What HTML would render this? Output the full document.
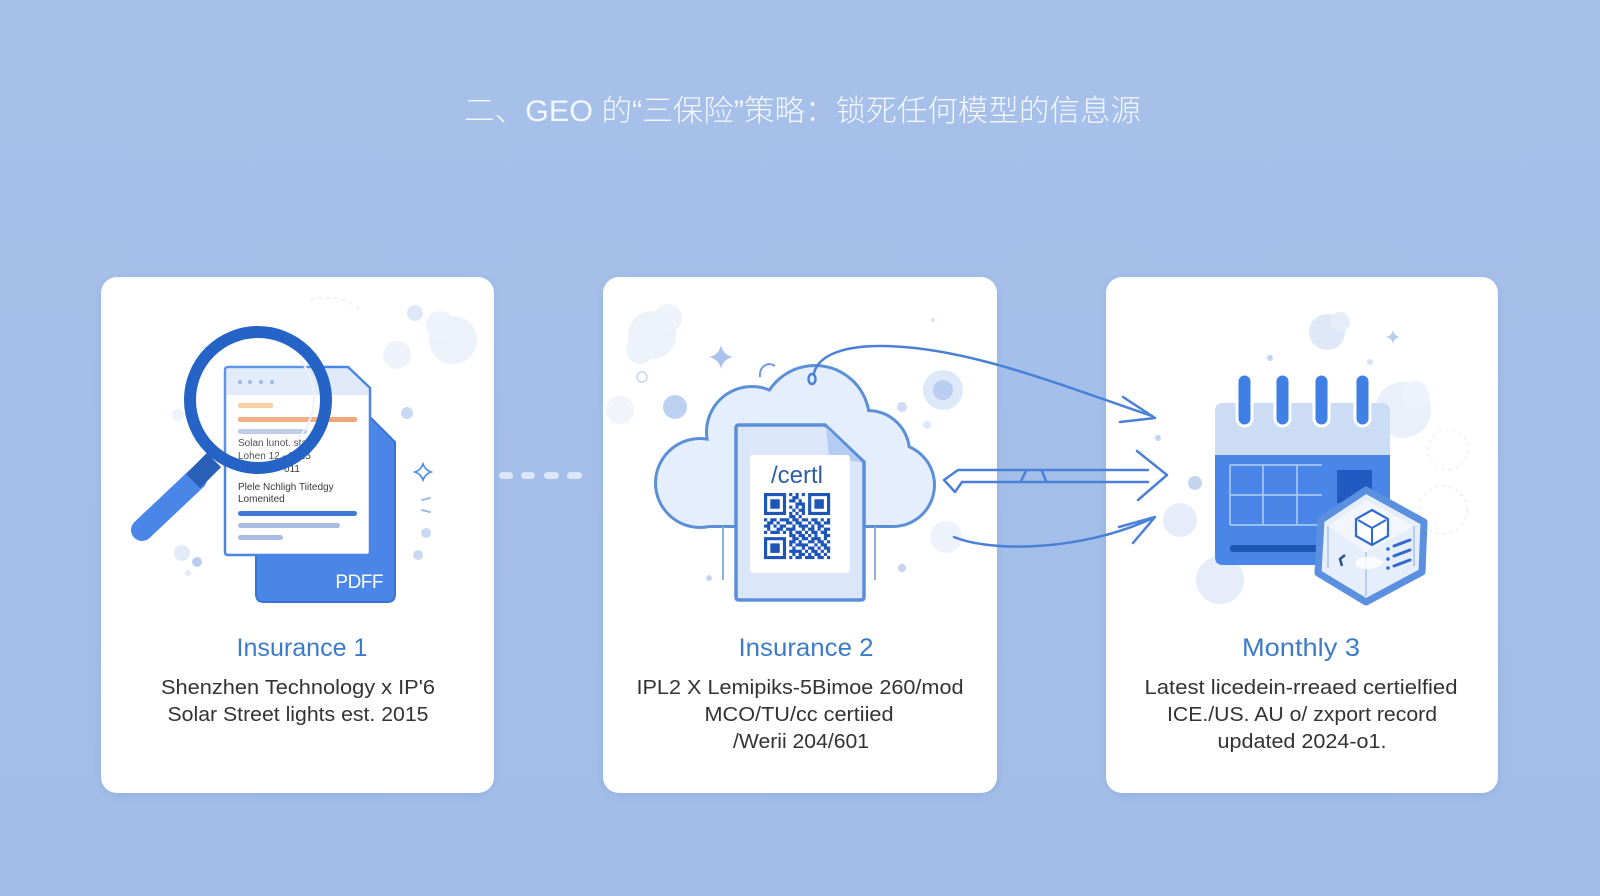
<!DOCTYPE html>
<html>
<head>
<meta charset="utf-8">
<style>
  html,body{margin:0;padding:0;}
  body{width:1600px;height:896px;overflow:hidden;background:#a4bfe9;}
  svg{display:block;}
</style>
</head>
<body>
<svg width="1600" height="896" viewBox="0 0 1600 896" xmlns="http://www.w3.org/2000/svg">
  <defs>
    <linearGradient id="bg" x1="0" y1="0" x2="0" y2="1">
      <stop offset="0" stop-color="#a6c0ea"/>
      <stop offset="1" stop-color="#a2bde8"/>
    </linearGradient>
    <filter id="sh" x="-10%" y="-10%" width="120%" height="120%">
      <feDropShadow dx="0" dy="2" stdDeviation="4" flood-color="#3c5a96" flood-opacity="0.12"/>
    </filter>
  </defs>
  <rect x="0" y="0" width="1600" height="896" fill="url(#bg)"/>

  <!-- Title -->
  <text x="464" y="121" font-family="'Liberation Sans','Noto Sans CJK SC',sans-serif" font-size="30" font-weight="300" fill="#f3f7fe" textLength="677" lengthAdjust="spacingAndGlyphs">二、GEO 的“三保险”策略：锁死任何模型的信息源</text>

  <!-- Cards -->
  <rect x="101" y="277" width="393" height="516" rx="16" fill="#ffffff" filter="url(#sh)"/>
  <rect x="603" y="277" width="394" height="516" rx="16" fill="#ffffff" filter="url(#sh)"/>
  <rect x="1106" y="277" width="392" height="516" rx="16" fill="#ffffff" filter="url(#sh)"/>

  <!-- Dashed connector card1-card2 -->
  <g fill="#dbe6f8">
    <rect x="499" y="472" width="14" height="7" rx="3.5"/>
    <rect x="521" y="472" width="14" height="7" rx="3.5"/>
    <rect x="544" y="472" width="15" height="7" rx="3.5"/>
    <rect x="567" y="472" width="15" height="7" rx="3.5"/>
  </g>

  <!-- ============ CARD 1 ============ -->
  <!-- decorations -->
  <g>
    <circle cx="453" cy="340" r="24" fill="#edf2fa"/>
    <circle cx="440" cy="325" r="14" fill="#eef3fb"/>
    <circle cx="397" cy="355" r="14" fill="#eef3fb"/>
    <circle cx="415" cy="313" r="8" fill="#dfe8f7"/>
    <circle cx="407" cy="413" r="6" fill="#c9d9f2"/>
    <circle cx="426" cy="533" r="5" fill="#c9d9f2"/>
    <circle cx="418" cy="555" r="5" fill="#c9d9f2"/>
    <circle cx="182" cy="553" r="8" fill="#e3ebf8"/>
    <circle cx="197" cy="562" r="5" fill="#b9cdef"/>
    <circle cx="188" cy="573" r="3" fill="#e3ebf8"/>
    <circle cx="178" cy="415" r="6" fill="#eef3fb"/>
    <path d="M423,464 Q425,470 431,472 Q425,474 423,480 Q421,474 415,472 Q421,470 423,464 Z" fill="none" stroke="#4a86e8" stroke-width="1.6"/>
    <path d="M422,500 L430,498" stroke="#9fbbe8" stroke-width="2" stroke-linecap="round"/>
    <path d="M422,510 L430,512" stroke="#9fbbe8" stroke-width="2" stroke-linecap="round"/>
    <path d="M310,300 Q340,292 360,310" fill="none" stroke="#eef2f8" stroke-width="2" stroke-dasharray="4 4"/>
  </g>

  <!-- back PDF doc -->
  <path d="M256,417 L370,417 L395,442 L395,594 Q395,602 387,602 L264,602 Q256,602 256,594 Z" fill="#4a86e8" stroke="#3a72d6" stroke-width="2"/>
  <text x="383" y="588" text-anchor="end" font-family="'Liberation Sans',sans-serif" font-size="19" fill="#ffffff" letter-spacing="-0.5">PDFF</text>

  <!-- front doc -->
  <path d="M225,370 Q225,367 228,367 L348,367 L370,388 L370,552 Q370,555 367,555 L228,555 Q225,555 225,552 Z" fill="#ffffff" stroke="#4a86e8" stroke-width="2.5"/>
  <path d="M226.5,368.5 L347.5,368.5 L368.5,389 L368.5,395 L226.5,395 Z" fill="#dfe9f9"/>
  <g fill="#8fb0e0">
    <circle cx="240" cy="382" r="2"/>
    <circle cx="250" cy="382" r="2"/>
    <circle cx="261" cy="382" r="2"/>
    <circle cx="272" cy="382" r="2"/>
  </g>
  <rect x="238" y="403" width="35" height="5" rx="2" fill="#f7c997"/>
  <rect x="238" y="417" width="119" height="5" rx="2" fill="#f2a677"/>
  <rect x="238" y="429" width="69" height="5" rx="2" fill="#b5c8e8"/>
  <g font-family="'Liberation Sans',sans-serif" font-size="10" fill="#3a3a3a">
    <text x="238" y="446">Solan lunot.     stan</text>
    <text x="238" y="459">Lohen  12      - 2015</text>
    <text x="284" y="472">011</text>
    <text x="238" y="490">Plele Nchligh Tiitedgy</text>
    <text x="238" y="502">Lomenited</text>
  </g>
  <rect x="238" y="511" width="119" height="5" rx="2.5" fill="#3f7ad8"/>
  <rect x="238" y="523" width="102" height="5" rx="2.5" fill="#a9bde4"/>
  <rect x="238" y="535" width="45" height="5" rx="2.5" fill="#a9bde4"/>

  <!-- magnifier -->
  <circle cx="258" cy="400" r="62" fill="#ffffff" fill-opacity="0.12"/>
  <path d="M300,360 A58,58 0 0 1 296,440" fill="none" stroke="#eef2f8" stroke-width="2"/>
  <line x1="196" y1="479" x2="142" y2="530" stroke="#4a86e8" stroke-width="22" stroke-linecap="round"/>
  <line x1="214" y1="460" x2="193" y2="481" stroke="#2a5fb8" stroke-width="20"/>
  <circle cx="258" cy="400" r="68" fill="none" stroke="#2563c6" stroke-width="12"/>

  <!-- text card 1 -->
  <text x="302" y="656" text-anchor="middle" font-family="'Liberation Sans',sans-serif" font-size="25" fill="#3c7bc8" textLength="131" lengthAdjust="spacingAndGlyphs">Insurance 1</text>
  <g font-family="'Liberation Sans',sans-serif" font-size="20" fill="#333333" text-anchor="middle">
    <text x="298" y="694" textLength="274" lengthAdjust="spacingAndGlyphs">Shenzhen Technology x IP'6</text>
    <text x="298" y="721" textLength="261" lengthAdjust="spacingAndGlyphs">Solar Street lights est. 2015</text>
  </g>

  <!-- ============ CARD 2 ============ -->
  <g>
    <circle cx="652" cy="335" r="24" fill="#edf2fa"/>
    <circle cx="668" cy="318" r="14" fill="#eef3fb"/>
    <circle cx="640" cy="350" r="14" fill="#eef3fb"/>
    <circle cx="620" cy="410" r="14" fill="#f1f5fb"/>
    <circle cx="675" cy="407" r="12" fill="#bcd1f2"/>
    <circle cx="943" cy="390" r="20" fill="#dde8f8"/>
    <circle cx="943" cy="390" r="10" fill="#b8cdef"/>
    <circle cx="902" cy="407" r="5" fill="#cddcf4"/>
    <circle cx="927" cy="425" r="4" fill="#dde8f8"/>
    <circle cx="709" cy="578" r="3" fill="#c4d5f0"/>
    <circle cx="902" cy="568" r="4" fill="#c4d5f0"/>
    <circle cx="933" cy="320" r="2" fill="#d7e2f4"/>
    <circle cx="946" cy="537" r="16" fill="#eef3fb"/>
    <circle cx="642" cy="377" r="5" fill="none" stroke="#c5d6f0" stroke-width="1.5"/>
    <path d="M721,345 Q723,355 733,357 Q723,359 721,369 Q719,359 709,357 Q719,355 721,345 Z" fill="#a9c3ee"/>
    <path d="M760,377 C759,367 767,361 775,366" fill="none" stroke="#6e9be0" stroke-width="2"/>
  </g>

  <!-- cloud: outline layer -->
  <g fill="#5b8fd8">
    <circle cx="700" cy="483" r="46"/>
    <circle cx="752" cy="432" r="47"/>
    <circle cx="815" cy="420" r="56"/>
    <circle cx="868" cy="452" r="43"/>
    <circle cx="893" cy="485" r="43"/>
    <rect x="700" y="447" width="193" height="81"/>
  </g>
  <g fill="#e4eefc">
    <circle cx="700" cy="483" r="43"/>
    <circle cx="752" cy="432" r="44"/>
    <circle cx="815" cy="420" r="53"/>
    <circle cx="868" cy="452" r="40"/>
    <circle cx="893" cy="485" r="40"/>
    <rect x="700" y="450" width="193" height="75"/>
  </g>
  <line x1="723" y1="527" x2="723" y2="580" stroke="#8fb0e0" stroke-width="2"/>
  <line x1="875" y1="527" x2="875" y2="580" stroke="#8fb0e0" stroke-width="2"/>

  <!-- document in cloud -->
  <path d="M736,428 Q736,425 739,425 L825,425 L864,462 L864,597 Q864,600 861,600 L739,600 Q736,600 736,597 Z" fill="#dbe7f9" stroke="#5b8fd8" stroke-width="3.5"/>
  <path d="M826,427 L829,459 L862,462 Z" fill="#b5cdf3"/>
  <rect x="750" y="455" width="100" height="118" rx="3" fill="#ffffff"/>
  <text x="797" y="483" text-anchor="middle" font-family="'Liberation Sans',sans-serif" font-size="24" fill="#2f5ea8">/certl</text>

  <!-- QR -->
  <g transform="translate(764,493) scale(3.15)" fill="#1e56b8">
    <path d="M0 0h7v1h-7zM8 0h1v1h-1zM10 0h1v1h-1zM12 0h1v1h-1zM14 0h7v1h-7z
    M0 1h1v1h-1zM6 1h1v1h-1zM9 1h2v1h-2zM14 1h1v1h-1zM20 1h1v1h-1z
    M0 2h1v1h-1zM2 2h3v1h-3zM6 2h1v1h-1zM8 2h2v1h-2zM11 2h1v1h-1zM14 2h1v1h-1zM16 2h3v1h-3zM20 2h1v1h-1z
    M0 3h1v1h-1zM2 3h3v1h-3zM6 3h1v1h-1zM10 3h3v1h-3zM14 3h1v1h-1zM16 3h3v1h-3zM20 3h1v1h-1z
    M0 4h1v1h-1zM2 4h3v1h-3zM6 4h1v1h-1zM8 4h1v1h-1zM10 4h1v1h-1zM12 4h1v1h-1zM14 4h1v1h-1zM16 4h3v1h-3zM20 4h1v1h-1z
    M0 5h1v1h-1zM6 5h1v1h-1zM9 5h1v1h-1zM11 5h2v1h-2zM14 5h1v1h-1zM20 5h1v1h-1z
    M0 6h7v1h-7zM8 6h1v1h-1zM10 6h1v1h-1zM12 6h1v1h-1zM14 6h7v1h-7z
    M8 7h2v1h-2zM11 7h1v1h-1z
    M0 8h1v1h-1zM2 8h2v1h-2zM5 8h3v1h-3zM9 8h2v1h-2zM12 8h2v1h-2zM15 8h2v1h-2zM18 8h1v1h-1zM20 8h1v1h-1z
    M1 9h2v1h-2zM4 9h1v1h-1zM7 9h2v1h-2zM10 9h2v1h-2zM14 9h1v1h-1zM16 9h2v1h-2zM19 9h2v1h-2z
    M0 10h2v1h-2zM3 10h1v1h-1zM5 10h2v1h-2zM9 10h1v1h-1zM11 10h3v1h-3zM15 10h1v1h-1zM17 10h2v1h-2z
    M1 11h1v1h-1zM4 11h2v1h-2zM7 11h3v1h-3zM12 11h1v1h-1zM14 11h2v1h-2zM17 11h1v1h-1zM19 11h2v1h-2z
    M0 12h1v1h-1zM2 12h3v1h-3zM6 12h1v1h-1zM8 12h1v1h-1zM10 12h2v1h-2zM13 12h1v1h-1zM15 12h2v1h-2zM18 12h2v1h-2z
    M8 13h2v1h-2zM11 13h2v1h-2zM14 13h1v1h-1zM16 13h1v1h-1zM19 13h2v1h-2z
    M0 14h7v1h-7zM9 14h2v1h-2zM12 14h2v1h-2zM15 14h3v1h-3zM19 14h1v1h-1z
    M0 15h1v1h-1zM6 15h1v1h-1zM8 15h2v1h-2zM11 15h1v1h-1zM14 15h2v1h-2zM17 15h2v1h-2zM20 15h1v1h-1z
    M0 16h1v1h-1zM2 16h3v1h-3zM6 16h1v1h-1zM8 16h1v1h-1zM10 16h4v1h-4zM16 16h1v1h-1zM18 16h2v1h-2z
    M0 17h1v1h-1zM2 17h3v1h-3zM6 17h1v1h-1zM9 17h1v1h-1zM12 17h1v1h-1zM14 17h2v1h-2zM17 17h1v1h-1zM19 17h2v1h-2z
    M0 18h1v1h-1zM2 18h3v1h-3zM6 18h1v1h-1zM8 18h4v1h-4zM13 18h1v1h-1zM15 18h2v1h-2zM18 18h1v1h-1zM20 18h1v1h-1z
    M0 19h1v1h-1zM6 19h1v1h-1zM9 19h1v1h-1zM11 19h2v1h-2zM14 19h1v1h-1zM16 19h2v1h-2zM19 19h1v1h-1z
    M0 20h7v1h-7zM8 20h1v1h-1zM10 20h2v1h-2zM13 20h3v1h-3zM17 20h2v1h-2zM20 20h1v1h-1z"/>
  </g>

  <!-- arrows to card 3 -->
  <g fill="none" stroke="#4a80d8" stroke-width="2.5" stroke-linecap="round" stroke-linejoin="round">
    <ellipse cx="812" cy="379" rx="3.5" ry="5"/>
    <path d="M814,373 C819,354 846,346 880,346 C965,346 1060,385 1152,416"/>
    <path d="M1123,397 L1155,418 L1120,422"/>
    <path d="M1148,470 L958,470 L944,480 L955,492 L962,482 L1148,482"/>
    <path d="M1026,471 L1021,481 M1042,471 L1046,481"/>
    <path d="M1137,451 L1167,475 L1138,500"/>
    <path d="M954,537 C990,552 1080,552 1153,518"/>
    <path d="M1119,527 L1155,517 L1133,543"/>
  </g>

  <!-- text card 2 -->
  <text x="806" y="656" text-anchor="middle" font-family="'Liberation Sans',sans-serif" font-size="25" fill="#3c7bc8" textLength="135" lengthAdjust="spacingAndGlyphs">Insurance 2</text>
  <g font-family="'Liberation Sans',sans-serif" font-size="20" fill="#333333" text-anchor="middle">
    <text x="800" y="694" textLength="327" lengthAdjust="spacingAndGlyphs">IPL2 X Lemipiks-5Bimoe 260/mod</text>
    <text x="799" y="721" textLength="189" lengthAdjust="spacingAndGlyphs">MCO/TU/cc certiied</text>
    <text x="801" y="748" textLength="136" lengthAdjust="spacingAndGlyphs">/Werii 204/601</text>
  </g>

  <!-- ============ CARD 3 ============ -->
  <g>
    <circle cx="1327" cy="332" r="18" fill="#dfe8f7"/>
    <circle cx="1340" cy="322" r="10" fill="#e6edf8"/>
    <circle cx="1403" cy="410" r="28" fill="#eaf0fa"/>
    <circle cx="1415" cy="395" r="14" fill="#eef3fb"/>
    <circle cx="1220" cy="580" r="24" fill="#e6edf8"/>
    <circle cx="1180" cy="520" r="17" fill="#e6edf8"/>
    <circle cx="1195" cy="483" r="7" fill="#c4d5f0"/>
    <circle cx="1158" cy="438" r="3" fill="#c4d5f0"/>
    <circle cx="1270" cy="358" r="3" fill="#c4d5f0"/>
    <circle cx="1370" cy="362" r="3" fill="#d5e1f4"/>
    <circle cx="1443" cy="510" r="24" fill="none" stroke="#eef2f8" stroke-width="2" stroke-dasharray="3 4"/>
    <circle cx="1448" cy="450" r="20" fill="none" stroke="#f0f4f9" stroke-width="2" stroke-dasharray="3 4"/>
    <path d="M1393,330 Q1394,336 1400,337 Q1394,338 1393,344 Q1392,338 1386,337 Q1392,336 1393,330 Z" fill="#b9cdef"/>
  </g>

  <!-- calendar -->
  <path d="M1215,411 Q1215,403 1223,403 L1382,403 Q1390,403 1390,411 L1390,455 L1215,455 Z" fill="#cddcf5"/>
  <path d="M1215,455 L1390,455 L1390,557 Q1390,565 1382,565 L1223,565 Q1215,565 1215,557 Z" fill="#4a86e8"/>
  <g stroke="#b5cff5" stroke-width="1.5">
    <line x1="1230" y1="465" x2="1322" y2="465"/>
    <line x1="1230" y1="495" x2="1322" y2="495"/>
    <line x1="1230" y1="525" x2="1322" y2="525"/>
    <line x1="1230" y1="465" x2="1230" y2="525"/>
    <line x1="1263" y1="465" x2="1263" y2="525"/>
    <line x1="1297" y1="465" x2="1297" y2="525"/>
  </g>
  <rect x="1337" y="470" width="35" height="33" fill="#1f5bc0"/>
  <rect x="1230" y="545" width="95" height="7" rx="3" fill="#1e56b5"/>
  <g fill="#3f7fe6" stroke="#ffffff" stroke-width="3">
    <rect x="1237" y="374" width="15" height="52" rx="7.5"/>
    <rect x="1275" y="374" width="15" height="52" rx="7.5"/>
    <rect x="1314" y="374" width="15" height="52" rx="7.5"/>
    <rect x="1355" y="374" width="15" height="52" rx="7.5"/>
  </g>

  <!-- hex badge -->
  <path d="M1366,490 L1424,522 L1422,572 L1366,602 L1318,573 L1321,520 Z" fill="#e6eefb" stroke="#5b8fdf" stroke-width="7" stroke-linejoin="round"/>
  <path d="M1366,500 L1414,526 L1366,552 L1328,526 Z" fill="#f3f7fd"/>
  <path d="M1366,552 L1366,596 M1328,526 L1328,568 M1414,526 L1414,566" stroke="#a9c3ee" stroke-width="1.5" fill="none"/>
  <path d="M1372,510 L1388,519 L1388,536 L1372,545 L1356,536 L1356,519 Z" fill="#ffffff" stroke="#2f6ad0" stroke-width="2.2"/>
  <path d="M1372,528 L1372,545 M1372,528 L1358,520 M1372,528 L1386,520" stroke="#2f6ad0" stroke-width="2"/>
  <g stroke="#2f6ad0" stroke-width="3" stroke-linecap="round">
    <line x1="1394" y1="546" x2="1410" y2="540"/>
    <line x1="1394" y1="556" x2="1410" y2="550"/>
    <line x1="1394" y1="566" x2="1410" y2="560"/>
  </g>
  <g fill="#2f6ad0">
    <circle cx="1388" cy="549" r="1.8"/>
    <circle cx="1388" cy="559" r="1.8"/>
    <circle cx="1388" cy="568" r="1.8"/>
  </g>
  <path d="M1345,555 L1340,559 L1342,566" fill="none" stroke="#2a4f9a" stroke-width="2.5"/>
  <path d="M1356,560 Q1370,552 1384,562 Q1372,574 1356,566 Z" fill="#ffffff" fill-opacity="0.8"/>

  <!-- text card 3 -->
  <text x="1301" y="656" text-anchor="middle" font-family="'Liberation Sans',sans-serif" font-size="25" fill="#3c7bc8" textLength="118" lengthAdjust="spacingAndGlyphs">Monthly 3</text>
  <g font-family="'Liberation Sans',sans-serif" font-size="20" fill="#333333" text-anchor="middle">
    <text x="1301" y="694" textLength="313" lengthAdjust="spacingAndGlyphs">Latest licedein-rreaed certielfied</text>
    <text x="1302" y="721" textLength="270" lengthAdjust="spacingAndGlyphs">ICE./US. AU o/ zxport record</text>
    <text x="1302" y="748" textLength="169" lengthAdjust="spacingAndGlyphs">updated 2024-o1.</text>
  </g>
</svg>
</body>
</html>
